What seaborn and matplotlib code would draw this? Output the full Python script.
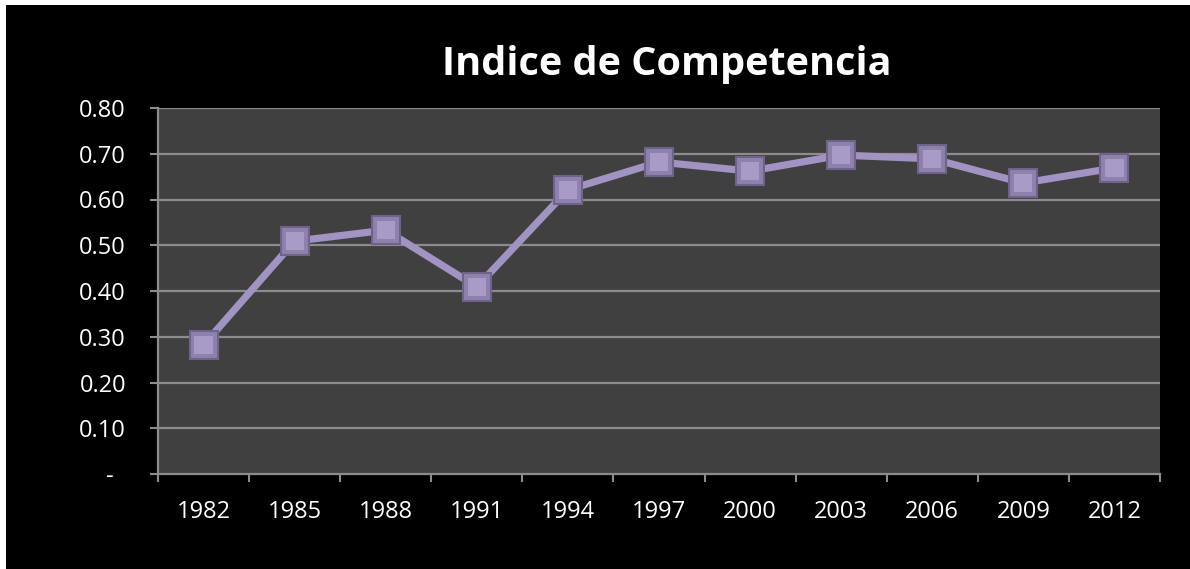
import matplotlib
matplotlib.use('Agg')
import matplotlib.pyplot as plt
import seaborn as sns
import pandas as pd
from matplotlib.patches import Rectangle

# chart values
years = ['1982', '1985', '1988', '1991', '1994', '1997', '2000', '2003', '2006', '2009', '2012']
indice = [0.282, 0.509, 0.533, 0.409, 0.621, 0.682, 0.662, 0.697, 0.689, 0.636, 0.669]
y_ticks = [0.0, 0.1, 0.2, 0.3, 0.4, 0.5, 0.6, 0.7, 0.8]
y_labels = ['-  ', '0.10', '0.20', '0.30', '0.40', '0.50', '0.60', '0.70', '0.80']

df = pd.DataFrame({'year': years, 'indice': indice})

sns.set_style('dark')
plt.rcParams['font.family'] = ['Open Sans', 'DejaVu Sans']

fig = plt.figure(figsize=(11.9, 5.69), dpi=100, facecolor='white')
# black chart area with small white margin at top/left like the screenshot
fig.patches.append(Rectangle((6 / 1190, 0), 1, 1 - 5 / 569, transform=fig.transFigure,
                             facecolor='black', edgecolor='none', zorder=-10))

ax = fig.add_axes([158 / 1190, 1 - 474 / 569, (1160 - 158) / 1190, (474 - 108) / 569])
ax.set_zorder(5)
ax.set_facecolor('#404040')

sns.lineplot(data=df, x='year', y='indice', ax=ax, color='#A193C2', linewidth=5.2,
             marker='s', markersize=20, markerfacecolor='#8F81AE',
             markeredgecolor='#6E6388', markeredgewidth=1.5, zorder=3)
# lighter centre on the markers for the bevelled look
sns.scatterplot(data=df, x='year', y='indice', ax=ax, marker='s', s=170,
                color='#A89BC8', edgecolor='none', zorder=4, legend=False)

ax.set_ylim(0, 0.8)
ax.set_xlim(-0.5, len(years) - 0.5)
ax.set_yticks(y_ticks)
ax.set_yticklabels(y_labels)
ax.set_xticks(range(len(years)))
ax.set_xticklabels(years)
ax.set_xticks([i - 0.5 for i in range(len(years) + 1)], minor=True)

ax.grid(False)
for yv in y_ticks[1:]:
    ax.axhline(yv, color='#8C8C8C', linewidth=1.6, zorder=1)

ax.tick_params(axis='y', which='major', length=6, width=1.5, color='#8C8C8C',
               labelcolor='white', labelsize=17, pad=17, direction='out', left=True)
ax.tick_params(axis='x', which='major', length=0, labelcolor='white', labelsize=17, pad=19)
ax.tick_params(axis='x', which='minor', length=6, width=1.5, color='#8C8C8C',
               direction='out', bottom=True)

for side in ['top', 'right']:
    ax.spines[side].set_visible(False)
for side in ['left', 'bottom']:
    ax.spines[side].set_visible(True)
    ax.spines[side].set_color('#8C8C8C')
    ax.spines[side].set_linewidth(1.6)

ax.set_xlabel('')
ax.set_ylabel('')

fig.text(667 / 1190, 1 - 64 / 569, 'Indice de Competencia', color='white',
         fontsize=28.5, fontweight='bold', ha='center', va='center', zorder=6)

fig.savefig('out.png', dpi=100, facecolor=fig.get_facecolor())
